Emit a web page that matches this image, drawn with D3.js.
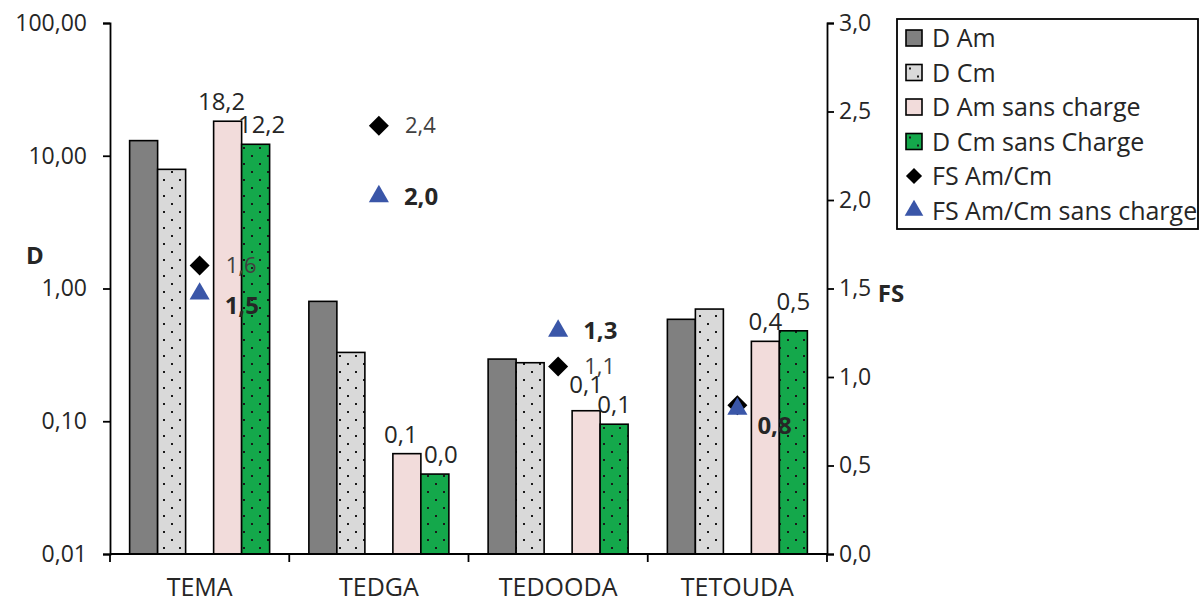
<!DOCTYPE html>
<html>
<head>
<meta charset="utf-8">
<script src="https://cdn.jsdelivr.net/npm/d3@7"></script>
<style>
  body { margin: 0; background: #fff; }
  svg { font-family: "Open Sans", sans-serif; }
</style>
</head>
<body>
<svg id="chart" width="1200" height="603"></svg>
<script>
// data
var categories = ["TEMA", "TEDGA", "TEDOODA", "TETOUDA"];
var dAm        = [13.0, 0.80, 0.294, 0.586];
var dCm        = [7.9, 0.33, 0.276, 0.70];
var dAmSans    = [18.2, 0.057, 0.12, 0.40];
var dCmSans    = [12.2, 0.040, 0.095, 0.48];
var fsAmCm     = [1.63, 2.42, 1.06, 0.84];
var fsAmCmSans = [1.47, 2.02, 1.26, 0.82];
var leftTicks  = [0.01, 0.1, 1, 10, 100];
var rightTicks = [0, 0.5, 1, 1.5, 2, 2.5, 3];

var svg = d3.select("#chart");
var plotL = 110, plotR = 827, plotT = 23, plotB = 554;
var comma = function(f) { return function(v) { return d3.format(f)(v).replace(".", ","); }; };

// pattern of small dots (Excel 5%)
var defs = svg.append("defs");
function dots(id, bg) {
  var p = defs.append("pattern").attr("id", id).attr("patternUnits", "userSpaceOnUse")
    .attr("width", 16).attr("height", 16);
  p.append("rect").attr("width", 16).attr("height", 16).attr("fill", bg);
  p.append("rect").attr("x", 3).attr("y", 3).attr("width", 2).attr("height", 2).attr("fill", "#1a1a1a");
  p.append("rect").attr("x", 11).attr("y", 11).attr("width", 2).attr("height", 2).attr("fill", "#1a1a1a");
}
dots("dotGrey", "#d9d9d9");
dots("dotGreen", "#14a84b");

var series = [
  {name: "D Am", values: dAm, fill: "#808080", label: false},
  {name: "D Cm", values: dCm, fill: "url(#dotGrey)", label: false},
  {name: "", values: null},
  {name: "D Am sans charge", values: dAmSans, fill: "#f2dcdb", label: true},
  {name: "D Cm sans Charge", values: dCmSans, fill: "url(#dotGreen)", label: true}
];

var x = d3.scaleBand().domain(categories).range([plotL, plotR]);
var x1 = d3.scaleBand().domain(d3.range(series.length)).range([-70, 70]);
var y = d3.scaleLog().domain([0.01, 100]).range([plotB, plotT]);
var y2 = d3.scaleLinear().domain([0, 3]).range([plotB, plotT]);

// label spots for the two labelled series; when they nearly meet, the higher one goes up,
// when they are a bit apart they spread sideways
var labelPos = categories.map(function(c, i) {
  var a = y(dAmSans[i]) - 11, b = y(dCmSans[i]) - 11, dx = 0;
  var dist = Math.abs(a - b);
  if (dist < 20) {
    if (a < b) a = b - 20; else b = a - 20;
  } else if (dist < 30) {
    dx = 6;
  }
  return [{y: a, dx: -dx}, {y: b, dx: dx}];
});

// bars
series.forEach(function(s, si) {
  if (!s.values) return;
  var g = svg.append("g");
  g.selectAll("rect").data(s.values).enter().append("rect")
    .attr("x", function(d, i) { return x(categories[i]) + x.bandwidth() / 2 + x1(si); })
    .attr("y", function(d) { return y(d); })
    .attr("width", x1.bandwidth())
    .attr("height", function(d) { return y(0.01) - y(d); })
    .attr("fill", s.fill)
    .attr("stroke", "#000")
    .attr("stroke-width", 1.6);
  if (s.label) {
    var k = si == 3 ? 0 : 1;
    g.selectAll("text").data(s.values).enter().append("text")
      .attr("x", function(d, i) { return x(categories[i]) + x.bandwidth() / 2 + x1(si) + x1.bandwidth() / 2 + labelPos[i][k].dx; })
      .attr("y", function(d, i) { return labelPos[i][k].y; })
      .attr("text-anchor", "middle")
      .attr("font-size", 24)
      .attr("fill", "#262626")
      .text(comma(".1f"));
  }
});

// left axis
var yAxis = d3.axisLeft(y).tickValues(leftTicks).tickFormat(comma(".2f")).tickSize(7).tickPadding(16);
var ga = svg.append("g").attr("transform", "translate(" + plotL + ",0)").call(yAxis);
// right axis
var y2Axis = d3.axisRight(y2).tickValues(rightTicks).tickFormat(comma(".1f")).tickSize(7).tickPadding(5);
var gb = svg.append("g").attr("transform", "translate(" + plotR + ",0)").call(y2Axis);
// bottom axis with ticks between categories
var xAxis = d3.axisBottom(x).tickSize(0).tickPadding(24);
var gc = svg.append("g").attr("transform", "translate(0," + plotB + ")").call(xAxis);
gc.selectAll(".sep").data(categories.concat([null])).enter().append("line")
  .attr("x1", function(d, i) { return plotL + i * x.step(); })
  .attr("x2", function(d, i) { return plotL + i * x.step(); })
  .attr("y1", 0).attr("y2", 8)
  .attr("stroke", "#000").attr("stroke-width", 1.8);

[ga, gb, gc].forEach(function(g) {
  g.selectAll(".domain").attr("stroke", "#000").attr("stroke-width", 1.8);
  g.selectAll(".tick line").attr("stroke", "#000").attr("stroke-width", 1.8);
  g.selectAll("text").attr("font-family", "'Open Sans', sans-serif").attr("font-size", 23).attr("fill", "#262626");
});
gc.select(".domain").attr("d", "M" + plotL + ",0H" + plotR);
gc.selectAll("text").attr("font-size", 25);

// axis titles
svg.append("text").attr("x", 35).attr("y", 264).attr("text-anchor", "middle")
  .attr("font-weight", "bold").attr("font-size", 24).attr("fill", "#262626").text("D");
svg.append("text").attr("x", 891).attr("y", 302).attr("text-anchor", "middle")
  .attr("font-weight", "bold").attr("font-size", 24).attr("fill", "#262626").text("FS");

// FS markers
var diamond = d3.symbol().type(d3.symbolSquare).size(200);
var triangle = d3.symbol().type(d3.symbolTriangle).size(175);
var cx = function(i) { return x(categories[i]) + x.bandwidth() / 2; };
// where the two FS points sit close, the triangle label moves below and the diamond label is hidden
var gap = function(i) { return y2(fsAmCmSans[i]) - y2(fsAmCm[i]); };

svg.append("g").selectAll("path").data(fsAmCm).enter().append("path")
  .attr("d", diamond)
  .attr("transform", function(d, i) { return "translate(" + cx(i) + "," + y2(d) + ") rotate(45)"; })
  .attr("fill", "#000");
svg.append("g").selectAll("text").data(fsAmCm).enter().append("text")
  .filter(function(d, i) { return Math.abs(gap(i)) > 15; })
  .attr("x", function(d, i) { return cx(i) + 26; })
  .attr("y", function(d) { return y2(d); })
  .attr("dy", "0.35em")
  .attr("font-size", 22).attr("fill", "#404040")
  .text(comma(".1f"));

svg.append("g").selectAll("path").data(fsAmCmSans).enter().append("path")
  .attr("d", triangle)
  .attr("transform", function(d, i) { return "translate(" + cx(i) + "," + y2(d) + ")"; })
  .attr("fill", "#3a56a8");
svg.append("g").selectAll("text").data(fsAmCmSans).enter().append("text")
  .attr("x", function(d, i) { return cx(i) + (Math.abs(gap(i)) > 15 ? 25 : 20); })
  .attr("y", function(d, i) { var g = gap(i); return y2(d) + (g > 0 && g < 40 ? (g > 15 ? 12 : 17) : 0); })
  .attr("dy", "0.35em")
  .attr("font-size", 24).attr("font-weight", "bold").attr("fill", "#262626")
  .text(comma(".1f"));

// legend
var legend = svg.append("g");
legend.append("rect").attr("x", 897).attr("y", 19).attr("width", 301).attr("height", 210)
  .attr("fill", "#fff").attr("stroke", "#000").attr("stroke-width", 1.8);
var items = series.filter(function(s) { return s.values; })
  .map(function(s) { return {name: s.name, fill: s.fill, kind: "bar"}; })
  .concat([{name: "FS Am/Cm", kind: "diamond"}, {name: "FS Am/Cm sans charge", kind: "triangle"}]);
var row = legend.selectAll(".item").data(items).enter().append("g")
  .attr("transform", function(d, i) { return "translate(914," + (38 + i * 34.5) + ")"; });
row.filter(function(d) { return d.kind == "bar"; }).append("rect")
  .attr("x", -8).attr("y", -8).attr("width", 16).attr("height", 16)
  .attr("fill", function(d) { return d.fill; }).attr("stroke", "#000").attr("stroke-width", 1.6);
row.filter(function(d) { return d.kind == "diamond"; }).append("path")
  .attr("d", d3.symbol().type(d3.symbolSquare).size(130)).attr("transform", "rotate(45)").attr("fill", "#000");
row.filter(function(d) { return d.kind == "triangle"; }).append("path")
  .attr("d", d3.symbol().type(d3.symbolTriangle).size(150)).attr("fill", "#3a56a8");
row.append("text").attr("x", 18).attr("dy", "0.36em")
  .attr("font-size", 25).attr("fill", "#262626")
  .text(function(d) { return d.name; });
</script>
</body>
</html>
